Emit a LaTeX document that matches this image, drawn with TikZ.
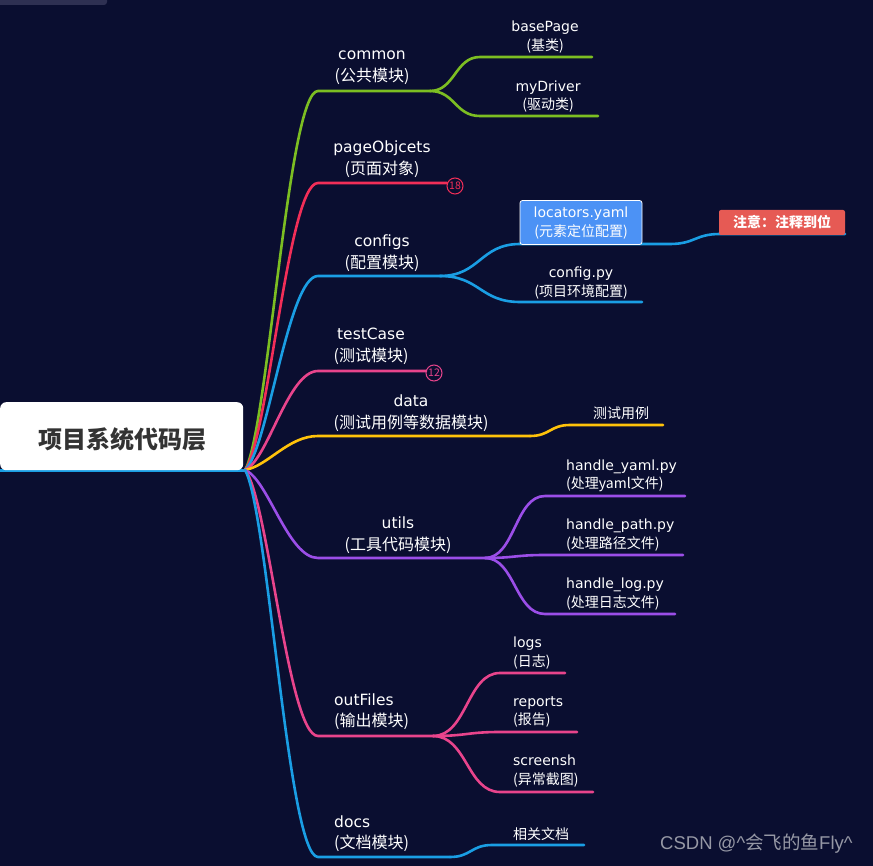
\documentclass[tikz,border=0pt]{standalone}
\usepackage{fontspec}
\setmainfont{Noto Sans CJK SC}
\newfontfamily\lat{DejaVu Sans}
\newfontfamily\wmlat{Liberation Sans}
\definecolor{bg}{RGB}{10,14,48}
\definecolor{topbar}{RGB}{46,48,82}
\definecolor{cgreen}{RGB}{124,190,34}
\definecolor{cred}{RGB}{242,46,88}
\definecolor{cblue}{RGB}{26,158,228}
\definecolor{cpink}{RGB}{232,68,140}
\definecolor{cyellow}{RGB}{255,194,10}
\definecolor{cpurple}{RGB}{155,78,232}
\definecolor{boxblue}{RGB}{76,146,245}
\definecolor{boxred}{RGB}{230,90,84}
\definecolor{roottext}{RGB}{51,51,51}
\definecolor{wmgray}{RGB}{150,152,165}
\newcommand{\LA}[1]{{\lat\fontsize{15.5}{22}\selectfont #1}}
\newcommand{\LB}[1]{{\lat\fontsize{14}{18.5}\selectfont #1}}
\tikzset{
  br/.style={line width=2.6pt, line cap=round},
  lab/.style={text=white, font=\fontsize{16}{22}\selectfont, align=center, inner sep=0pt},
  labl/.style={text=white, font=\fontsize{16}{21}\selectfont, align=left, inner sep=0pt, anchor=west},
  sub/.style={text=white, font=\fontsize{14}{18.5}\selectfont, align=center, inner sep=0pt},
  subl/.style={text=white, font=\fontsize{14}{18.5}\selectfont, align=left, inner sep=0pt, anchor=west},
  badge/.style={circle, draw=#1, line width=1pt, minimum size=16pt, inner sep=0pt, text=#1, font=\fontsize{10.5}{10.5}\selectfont},
}
\begin{document}
\begin{tikzpicture}[x=1pt,y=-1pt]
\fill[bg] (0,0) rectangle (873,866);
\useasboundingbox (0,0) rectangle (873,866);
\fill[topbar, rounded corners=3pt] (-6,-6) rectangle (107,5);

% root
\coordinate (R) at (245,470);
\draw[cblue, line width=3pt] (0,470) -- (R);
\node[fill=white, rounded corners=6pt, minimum width=243pt, minimum height=68pt, anchor=north west, inner sep=0pt] (root) at (0,402) {};
\node[text=roottext, font=\fontsize{24}{24}\selectfont\bfseries] (roottxt) at (122,439) {项目系统代码层};

% first level coordinates
\coordinate (common) at (318,91);   \coordinate (commonS) at (430,91);
\coordinate (page) at (318,183);    \coordinate (pageE) at (447,183);
\coordinate (conf) at (318,276);    \coordinate (confS) at (440,276);
\coordinate (test) at (318,371);    \coordinate (testE) at (426,371);
\coordinate (data) at (318,436);    \coordinate (dataS) at (530,436);
\coordinate (util) at (318,558);    \coordinate (utilS) at (485,558);
\coordinate (out) at (318,736);     \coordinate (outS) at (433,736);
\coordinate (docs) at (318,857);    \coordinate (docsS) at (450,857);

% root branches
\draw[br, cgreen] (R) .. controls (268,432) and (288,91) .. (common) -- (commonS);
\draw[br, cred] (R) .. controls (268,441) and (288,183) .. (page) -- (pageE);
\draw[br, cblue] (R) .. controls (268,450) and (288,276) .. (conf) -- (confS);
\draw[br, cpink] (R) .. controls (268,460) and (288,371) .. (test) -- (testE);
\draw[br, cyellow] (R) .. controls (268,466) and (288,436) .. (data) -- (dataS);
\draw[br, cpurple] (R) .. controls (268,479) and (288,558) .. (util) -- (utilS);
\draw[br, cpink] (R) .. controls (268,497) and (288,736) .. (out) -- (outS);
\draw[br, cblue] (R) .. controls (268,509) and (288,857) .. (docs) -- (docsS);

% common children
\coordinate (bp) at (480,57);  \coordinate (bpE) at (592,57);
\coordinate (md) at (480,116); \coordinate (mdE) at (598,116);
\draw[br, cgreen] (commonS) .. controls (455,91) and (455,57) .. (bp) -- (bpE);
\draw[br, cgreen] (commonS) .. controls (455,91) and (455,116) .. (md) -- (mdE);

% badges
\node[badge=cred] (b18) at (455,186) {18};
\node[badge=cpink] (b12) at (434,373) {12};

% configs children
\coordinate (loc) at (520,244); \coordinate (locE) at (670,244);
\coordinate (note) at (720,234); \coordinate (noteE) at (845,234);
\coordinate (cp) at (520,302); \coordinate (cpE) at (642,302);
\draw[br, cblue] (confS) .. controls (480,276) and (480,244) .. (loc) -- (locE)
   .. controls (695,244) and (695,234) .. (note) -- (noteE);
\draw[br, cblue] (confS) .. controls (480,276) and (480,302) .. (cp) -- (cpE);
\node[fill=boxblue, draw=white, line width=0.8pt, rounded corners=2.5pt, minimum width=122pt, minimum height=44pt, inner sep=0pt] (locbox) at (581,222.5) {};
\node[sub] (loctxt) at (581,223) {\LB{locators.yaml}\\(元素定位配置)};
\node[fill=boxred, rounded corners=2pt, minimum width=126pt, minimum height=25pt, inner sep=0pt, text=white, font=\fontsize{14}{14}\selectfont\bfseries] (notebox) at (782,222.5) {注意：注释到位};

% data child
\coordinate (tc) at (570,425); \coordinate (tcE) at (663,425);
\draw[br, cyellow] (dataS) .. controls (550,436) and (550,425) .. (tc) -- (tcE);

% utils children
\coordinate (hy) at (545,496); \coordinate (hyE) at (685,496);
\coordinate (hp) at (545,555); \coordinate (hpE) at (683,555);
\coordinate (hl) at (545,614); \coordinate (hlE) at (675,614);
\draw[br, cpurple] (utilS) .. controls (515,558) and (515,496) .. (hy) -- (hyE);
\draw[br, cpurple] (utilS) .. controls (515,558) and (515,555) .. (hp) -- (hpE);
\draw[br, cpurple] (utilS) .. controls (515,558) and (515,614) .. (hl) -- (hlE);

% outFiles children
\coordinate (lg) at (500,673); \coordinate (lgE) at (565,673);
\coordinate (rp) at (500,732); \coordinate (rpE) at (577,732);
\coordinate (ss) at (500,792); \coordinate (ssE) at (593,792);
\draw[br, cpink] (outS) .. controls (467,736) and (467,673) .. (lg) -- (lgE);
\draw[br, cpink] (outS) .. controls (467,736) and (467,732) .. (rp) -- (rpE);
\draw[br, cpink] (outS) .. controls (467,736) and (467,792) .. (ss) -- (ssE);

% docs child
\coordinate (dc) at (492,845); \coordinate (dcE) at (584,845);
\draw[br, cblue] (docsS) .. controls (471,857) and (471,845) .. (dc) -- (dcE);

% labels
\node[lab] (commonL) at (372,67.5) {\LA{common}\\(公共模块)};
\node[sub] (bpL) at (545,37) {\LB{basePage}\\(基类)};
\node[sub] (mdL) at (548,96.5) {\LB{myDriver}\\(驱动类)};
\node[lab] (pageL) at (382,159) {\LA{pageObjcets}\\(页面对象)};
\node[lab] (confL) at (382,253) {\LA{configs}\\(配置模块)};
\node[sub] (cpL) at (581,283) {\LB{config.py}\\(项目环境配置)};
\node[lab] (testL) at (371,346) {\LA{testCase}\\(测试模块)};
\node[lab] (dataL) at (411,413) {\LA{data}\\(测试用例等数据模块)};
\node[sub] (tcL) at (621,413) {测试用例};
\node[lab] (utilL) at (398,535) {\LA{utils}\\(工具代码模块)};
\node[subl] (hyL) at (566,476) {\LB{handle\_yaml.py}\\(处理yaml文件)};
\node[subl] (hpL) at (566,535) {\LB{handle\_path.py}\\(处理路径文件)};
\node[subl] (hlL) at (566,594) {\LB{handle\_log.py}\\(处理日志文件)};
\node[labl] (outL) at (334,712) {\LA{outFiles}\\(输出模块)};
\node[subl] (lgL) at (513,653) {\LB{logs}\\(日志)};
\node[subl] (rpL) at (513,712) {\LB{reports}\\(报告)};
\node[subl] (ssL) at (513,771) {\LB{screensh}\\(异常截图)};
\node[labl] (docsL) at (334,834) {\LA{docs}\\(文档模块)};
\node[subl] (dcL) at (513,834) {相关文档};

% watermark
\node[text=wmgray, font=\fontsize{18.5}{18.5}\selectfont, anchor=west, inner sep=0pt] (wm) at (660,844) {{\wmlat CSDN @\^{}}会飞的鱼{\wmlat Fly\^{}}};
\end{tikzpicture}
\end{document}
